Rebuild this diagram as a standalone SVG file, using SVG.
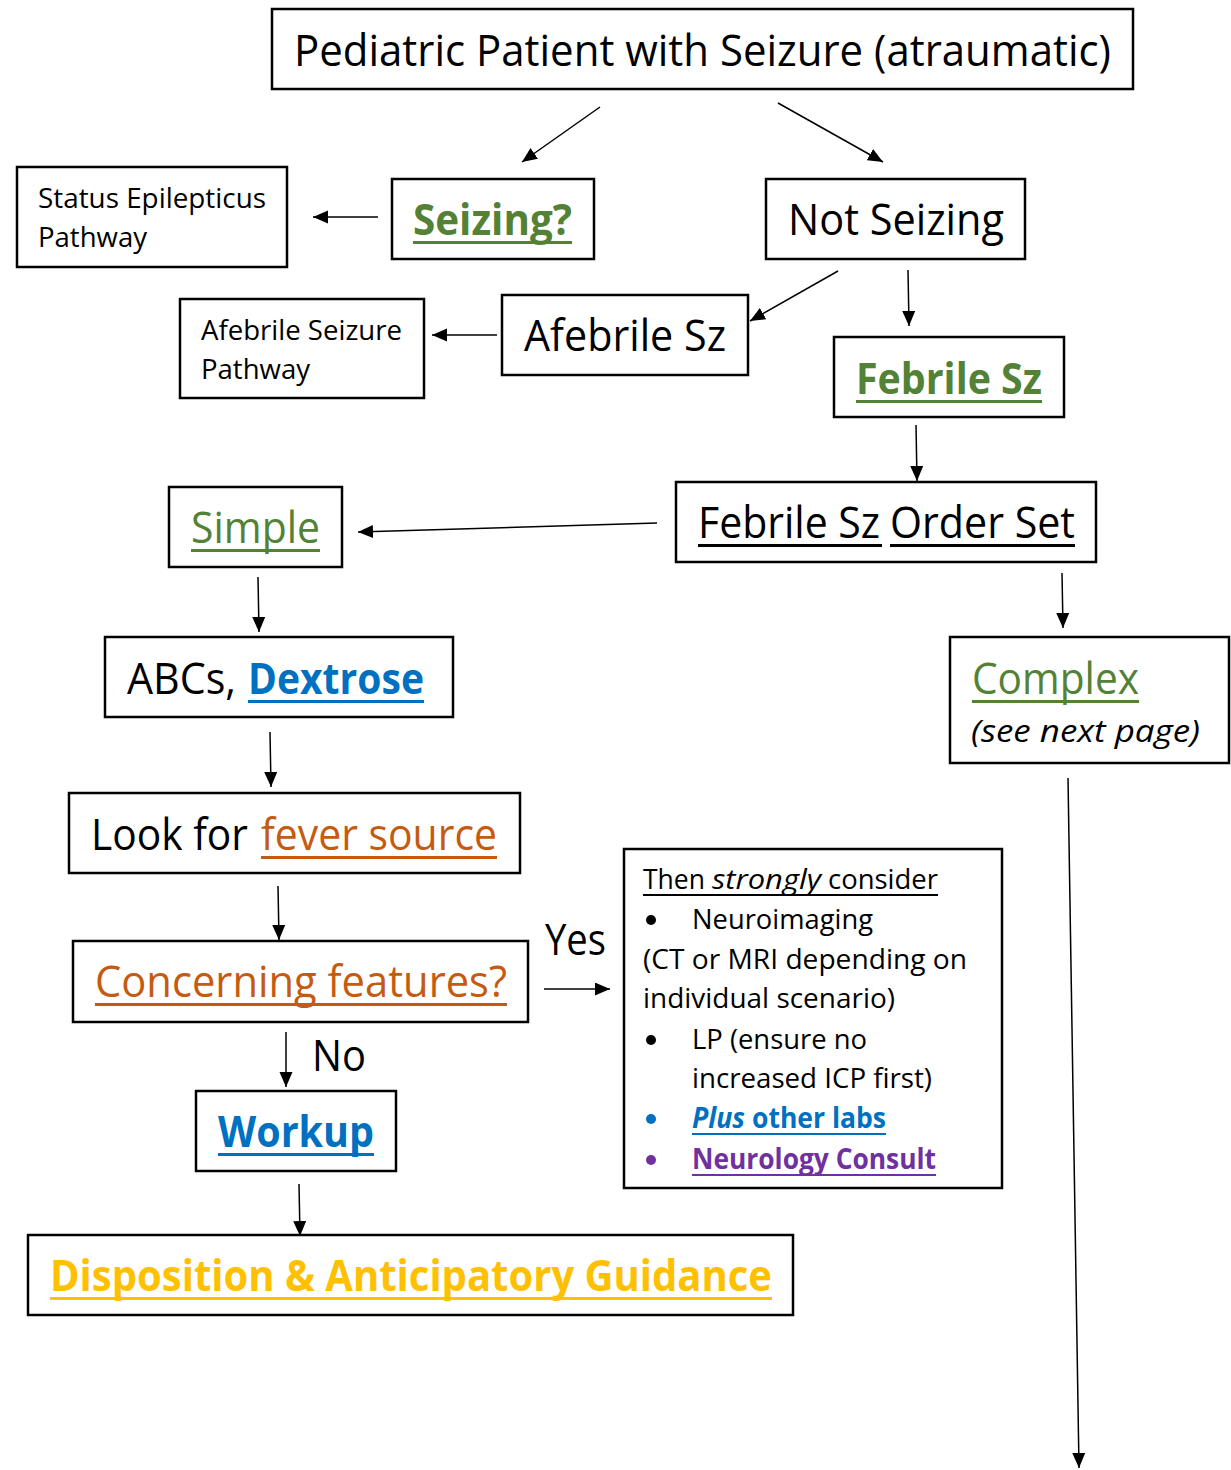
<svg xmlns="http://www.w3.org/2000/svg" width="1231" height="1470" viewBox="0 0 1231 1470">
<style>
.box{fill:#fff;stroke:#000;stroke-width:2.5}
text{font-family:"Open Sans","Noto Sans","DejaVu Sans",sans-serif;fill:#000}
.big{font-size:43px}
.sm{font-size:28px}
.b{font-weight:bold}
.i{font-style:italic}
.g{fill:#538135}.bl{fill:#0070C0}.o{fill:#C55A11}.y{fill:#FFC000}.p{fill:#7030A0}
.c line{stroke:#000;stroke-width:1.5;marker-end:url(#ah)}
</style>
<defs>
<marker id="ah" markerUnits="userSpaceOnUse" markerWidth="16" markerHeight="14" refX="15" refY="6.5" orient="auto">
<path d="M0,0 L15,6.5 L0,13 z" fill="#000"/>
</marker>
</defs>
<rect width="1231" height="1470" fill="#fff"/>

<g class="c" id="connectors">
<line x1="600" y1="107" x2="522" y2="162"/>
<line x1="778" y1="103" x2="883" y2="162"/>
<line x1="378" y1="217" x2="313" y2="217"/>
<line x1="838" y1="271" x2="750" y2="321"/>
<line x1="908" y1="270" x2="909" y2="326"/>
<line x1="497" y1="335" x2="432" y2="335"/>
<line x1="916" y1="425" x2="917" y2="481"/>
<line x1="657" y1="523" x2="358" y2="532"/>
<line x1="1062" y1="573" x2="1063" y2="628"/>
<line x1="258" y1="577" x2="259" y2="632"/>
<line x1="270" y1="732" x2="271" y2="787"/>
<line x1="278" y1="886" x2="279" y2="940"/>
<line x1="544" y1="989" x2="610" y2="989"/>
<line x1="286" y1="1032" x2="286" y2="1087"/>
<line x1="299" y1="1184" x2="300" y2="1236"/>
<line x1="1068" y1="778" x2="1079" y2="1468"/>
</g>

<g id="title">
<rect class="box" x="272" y="9" width="861" height="80"/>
<text class="big" x="294" y="66" textLength="817" lengthAdjust="spacingAndGlyphs">Pediatric Patient with Seizure (atraumatic)</text>
</g>

<g id="status">
<rect class="box" x="17" y="167" width="270" height="100"/>
<text class="sm" x="38" y="208" textLength="228" lengthAdjust="spacingAndGlyphs">Status Epilepticus</text>
<text class="sm" x="38" y="247" textLength="109" lengthAdjust="spacingAndGlyphs">Pathway</text>
</g>

<g id="seizing">
<rect class="box" x="392" y="179" width="202" height="80"/>
<text class="big b g" x="413" y="235" textLength="159" lengthAdjust="spacingAndGlyphs">Seizing?</text>
<rect x="413" y="241" width="159" height="3" fill="#538135"/>
</g>

<g id="notseizing">
<rect class="box" x="766" y="179" width="259" height="80"/>
<text class="big" x="788" y="235" textLength="216" lengthAdjust="spacingAndGlyphs">Not Seizing</text>
</g>

<g id="afebpath">
<rect class="box" x="180" y="299" width="244" height="99"/>
<text class="sm" x="201" y="340" textLength="201" lengthAdjust="spacingAndGlyphs">Afebrile Seizure</text>
<text class="sm" x="201" y="379" textLength="109" lengthAdjust="spacingAndGlyphs">Pathway</text>
</g>

<g id="afebsz">
<rect class="box" x="502" y="295" width="246" height="80"/>
<text class="big" x="524" y="351" textLength="202" lengthAdjust="spacingAndGlyphs">Afebrile Sz</text>
</g>

<g id="febsz">
<rect class="box" x="834" y="337" width="230" height="80"/>
<text class="big b g" x="856" y="394" textLength="186" lengthAdjust="spacingAndGlyphs">Febrile Sz</text>
<rect x="856" y="400" width="186" height="3" fill="#538135"/>
</g>

<g id="orderset">
<rect class="box" x="676" y="482" width="420" height="80"/>
<text class="big" x="698" y="538" textLength="182" lengthAdjust="spacingAndGlyphs">Febrile Sz</text>
<text class="big" x="890" y="538" textLength="185" lengthAdjust="spacingAndGlyphs">Order Set</text>
<rect x="698" y="544" width="184" height="3" fill="#000"/>
<rect x="890" y="544" width="185" height="3" fill="#000"/>
</g>

<g id="simple">
<rect class="box" x="169" y="487" width="173" height="80"/>
<text class="big g" x="191" y="543" textLength="129" lengthAdjust="spacingAndGlyphs">Simple</text>
<rect x="191" y="549" width="129" height="3" fill="#538135"/>
</g>

<g id="complex">
<rect class="box" x="950" y="637" width="279" height="126"/>
<text class="big g" x="972" y="694" textLength="167" lengthAdjust="spacingAndGlyphs">Complex</text>
<rect x="972" y="700" width="167" height="3" fill="#538135"/>
<text class="i" style="font-size:31px" x="971" y="742" textLength="229" lengthAdjust="spacingAndGlyphs">(see next page)</text>
</g>

<g id="abcs">
<rect class="box" x="105" y="637" width="348" height="80"/>
<text class="big" x="127" y="694" textLength="109" lengthAdjust="spacingAndGlyphs">ABCs,</text>
<text class="big b bl" x="248" y="694" textLength="176" lengthAdjust="spacingAndGlyphs">Dextrose</text>
<rect x="248" y="700" width="176" height="3" fill="#0070C0"/>
</g>

<g id="lookfor">
<rect class="box" x="69" y="793" width="451" height="80"/>
<text class="big" x="91" y="850" textLength="157" lengthAdjust="spacingAndGlyphs">Look for</text>
<text class="big o" x="261" y="850" textLength="236" lengthAdjust="spacingAndGlyphs">fever source</text>
<rect x="261" y="856" width="236" height="3" fill="#C55A11"/>
</g>

<g id="concerning">
<rect class="box" x="73" y="941" width="455" height="81"/>
<text class="big o" x="95" y="997" textLength="412" lengthAdjust="spacingAndGlyphs">Concerning features?</text>
<rect x="95" y="1003" width="412" height="3" fill="#C55A11"/>
</g>

<g id="labels">
<text class="big" x="545" y="955" textLength="61" lengthAdjust="spacingAndGlyphs">Yes</text>
<text class="big" x="312" y="1071" textLength="54" lengthAdjust="spacingAndGlyphs">No</text>
</g>

<g id="workup">
<rect class="box" x="196" y="1091" width="200" height="80"/>
<text class="big b bl" x="218" y="1147" textLength="156" lengthAdjust="spacingAndGlyphs">Workup</text>
<rect x="218" y="1153" width="156" height="3" fill="#0070C0"/>
</g>

<g id="disposition">
<rect class="box" x="28" y="1235" width="765" height="80"/>
<text class="big b y" x="50" y="1291" textLength="722" lengthAdjust="spacingAndGlyphs">Disposition &amp; Anticipatory Guidance</text>
<rect x="50" y="1297" width="722" height="3" fill="#FFC000"/>
</g>

<g id="consider">
<rect class="box" x="624" y="849" width="378" height="339"/>
<text class="sm" x="643" y="889" textLength="62" lengthAdjust="spacingAndGlyphs">Then</text>
<text class="sm i" x="712" y="889" textLength="109" lengthAdjust="spacingAndGlyphs">strongly</text>
<text class="sm" x="828" y="889" textLength="110" lengthAdjust="spacingAndGlyphs">consider</text>
<rect x="643" y="894" width="295" height="2" fill="#000"/>
<circle cx="651" cy="920" r="5" fill="#000"/>
<text class="sm" x="692" y="929" textLength="181" lengthAdjust="spacingAndGlyphs">Neuroimaging</text>
<text class="sm" x="643" y="969" textLength="324" lengthAdjust="spacingAndGlyphs">(CT or MRI depending on</text>
<text class="sm" x="643" y="1008" textLength="252" lengthAdjust="spacingAndGlyphs">individual scenario)</text>
<circle cx="651" cy="1040" r="5" fill="#000"/>
<text class="sm" x="692" y="1049" textLength="175" lengthAdjust="spacingAndGlyphs">LP (ensure no</text>
<text class="sm" x="692" y="1088" textLength="240" lengthAdjust="spacingAndGlyphs">increased ICP first)</text>
<circle cx="651" cy="1119" r="5" fill="#0070C0"/>
<text class="sm b i bl" x="692" y="1128" textLength="53" lengthAdjust="spacingAndGlyphs">Plus</text>
<text class="sm b bl" x="752" y="1128" textLength="134" lengthAdjust="spacingAndGlyphs">other labs</text>
<rect x="692" y="1133" width="194" height="2" fill="#0070C0"/>
<circle cx="651" cy="1160" r="5" fill="#7030A0"/>
<text class="sm b p" x="692" y="1169" textLength="244" lengthAdjust="spacingAndGlyphs">Neurology Consult</text>
<rect x="692" y="1174" width="244" height="2" fill="#7030A0"/>
</g>
</svg>
